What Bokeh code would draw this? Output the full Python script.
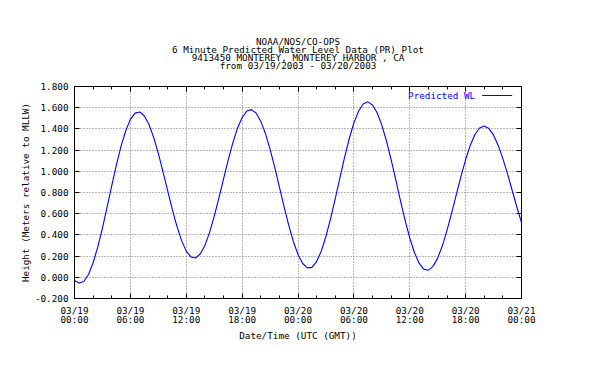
from bokeh.plotting import figure
from bokeh.models import (Range1d, FixedTicker, NumeralTickFormatter, LinearAxis,
                          Label, Arrow, ColumnDataSource, Title)
from bokeh.embed import file_html
from bokeh.resources import INLINE

# ---------------- data ----------------
title_lines = [
    "NOAA/NOS/CO-OPS",
    "6 Minute Predicted Water Level Data (PR) Plot",
    "9413450 MONTEREY, MONTEREY HARBOR , CA",
    "from 03/19/2003 - 03/20/2003",
]
x_tick_hours = [0, 6, 12, 18, 24, 30, 36, 42, 48]
x_tick_labels = ["03/19\n00:00", "03/19\n06:00", "03/19\n12:00", "03/19\n18:00",
                 "03/20\n00:00", "03/20\n06:00", "03/20\n12:00", "03/20\n18:00",
                 "03/21\n00:00"]
x_minor_hours = list(range(0, 49, 2))
y_ticks = [-0.2, 0.0, 0.2, 0.4, 0.6, 0.8, 1.0, 1.2, 1.4, 1.6, 1.8]

# hours since 03/19 00:00 UTC, every 30 minutes
hours = [i * 0.5 for i in range(97)]
water_level = [
    -0.030, -0.054, -0.039, 0.026, 0.137, 0.287, 0.465, 0.662, 0.865, 1.060,
    1.237, 1.382, 1.490, 1.549, 1.560, 1.522, 1.441, 1.320, 1.169, 0.997,
    0.817, 0.640, 0.480, 0.346, 0.247, 0.192, 0.182, 0.220, 0.301, 0.422,
    0.574, 0.746, 0.927, 1.105, 1.268, 1.407, 1.508, 1.568, 1.582, 1.550,
    1.473, 1.357, 1.209, 1.037, 0.853, 0.667, 0.492, 0.338, 0.215, 0.130,
    0.089, 0.094, 0.148, 0.247, 0.385, 0.554, 0.742, 0.939, 1.131, 1.307,
    1.457, 1.567, 1.635, 1.655, 1.626, 1.552, 1.436, 1.286, 1.109, 0.919,
    0.724, 0.538, 0.371, 0.234, 0.133, 0.077, 0.067, 0.103, 0.181, 0.297,
    0.442, 0.607, 0.781, 0.953, 1.111, 1.245, 1.347, 1.409, 1.427, 1.403,
    1.341, 1.244, 1.120, 0.975, 0.819, 0.663, 0.515,
]
series_name = "Predicted WL"
x_axis_title = "Date/Time (UTC (GMT))"
y_axis_title = "Height (Meters relative to MLLW)"

# ---------------- style ----------------
FONT = "DejaVu Sans Mono"
FS = "9.3px"
BLUE = "#0000ff"

p = figure(frame_width=447, frame_height=212,
           min_border_left=74, min_border_right=62,
           min_border_top=86, min_border_bottom=61,
           x_range=Range1d(0, 48), y_range=Range1d(-0.2, 1.8),
           output_backend="svg", toolbar_location=None,
           background_fill_color="white", border_fill_color="white")
p.title.visible = False
p.outline_line_color = "black"
p.outline_line_width = 1

src = ColumnDataSource(dict(h=hours, wl=water_level))
p.line("h", "wl", source=src, line_color=BLUE, line_width=1.1)

xticker = FixedTicker(ticks=x_tick_hours, minor_ticks=x_minor_hours)
yticker = FixedTicker(ticks=y_ticks)


def style_axis(ax):
    ax.axis_line_color = "black"
    ax.major_tick_line_color = "black"
    ax.minor_tick_line_color = "black"
    ax.major_tick_in = 5
    ax.major_tick_out = 0
    ax.minor_tick_in = 3
    ax.minor_tick_out = 0
    ax.major_label_text_font = FONT
    ax.major_label_text_font_size = FS
    ax.major_label_text_color = "black"
    ax.axis_label_text_font = FONT
    ax.axis_label_text_font_size = FS
    ax.axis_label_text_font_style = "normal"
    ax.axis_label_text_color = "black"


xa = p.xaxis[0]
xa.ticker = xticker
xa.major_label_overrides = {h: lab for h, lab in zip(x_tick_hours, x_tick_labels)}
xa.axis_label = x_axis_title
style_axis(xa)
xa.major_label_text_line_height = 0.85
xa.major_label_standoff = 6
xa.axis_label_standoff = 2

ya = p.yaxis[0]
ya.ticker = yticker
ya.formatter = NumeralTickFormatter(format="0.000")
ya.axis_label = y_axis_title
style_axis(ya)
ya.minor_tick_line_color = None
ya.major_label_standoff = 6
ya.axis_label_standoff = 1

top = LinearAxis(ticker=xticker)
style_axis(top)
top.major_label_text_color = None
top.major_label_standoff = 0
p.add_layout(top, "above")

right = LinearAxis(ticker=yticker)
style_axis(right)
right.minor_tick_line_color = None
right.major_label_text_color = None
right.major_label_standoff = 0
p.add_layout(right, "right")

for g, t in ((p.xgrid[0], xticker), (p.ygrid[0], yticker)):
    g.ticker = t
    g.grid_line_color = "#707070"
    g.grid_line_dash = "1 2"
    g.grid_line_width = 1

# blank spacer between frame and the title block
p.add_layout(Title(text=" ", align="center", text_font=FONT, text_font_size=FS,
                   text_line_height=0.8, standoff=5.3), "above")
# title: one centred Title per line, added from the bottom line upwards
for line in reversed(title_lines):
    p.add_layout(Title(text=line, align="center",
                       text_font=FONT, text_font_size=FS, text_font_style="normal",
                       text_color="black", text_line_height=0.8,
                       standoff=-4.7), "above")

# legend (gnuplot style: text then line sample)
p.add_layout(Label(x=400.7, y=203, x_units="screen", y_units="screen",
                   text=series_name, text_align="right", text_baseline="middle",
                   text_font=FONT, text_font_size=FS, text_color=BLUE))
p.add_layout(Arrow(end=None, x_start=407.7, y_start=203, x_end=437.7, y_end=203,
                   start_units="screen", end_units="screen",
                   line_color=BLUE, line_width=1.1))

open("out.html", "w").write(file_html(p, INLINE))
